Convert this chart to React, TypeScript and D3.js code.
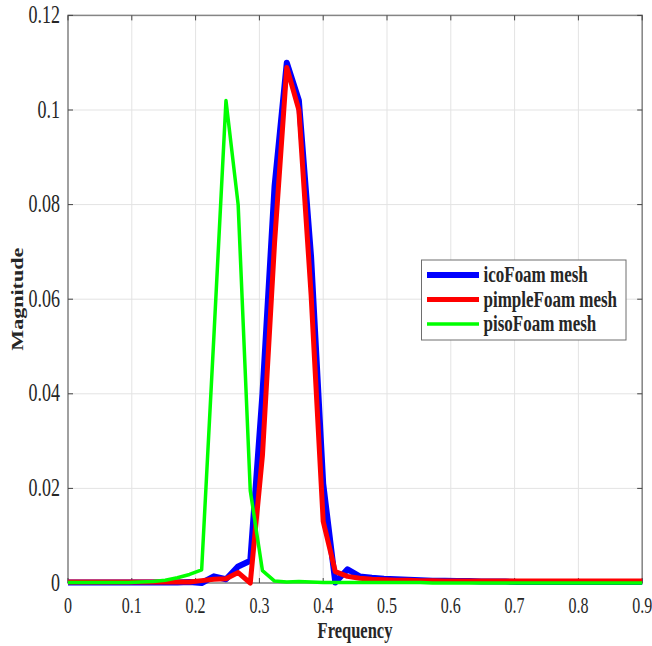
import React from "react";
import * as d3 from "d3";

const freq = [
  0, 0.019, 0.0381, 0.0571, 0.0762, 0.0952, 0.1143, 0.1333, 0.1524, 0.1714,
  0.1905, 0.2095, 0.2286, 0.2476, 0.2667, 0.2857, 0.3048, 0.3238, 0.3429, 0.3619,
  0.381, 0.4, 0.419, 0.4381, 0.4571, 0.4762, 0.4952, 0.5143, 0.5333, 0.5524,
  0.5714, 0.5905, 0.6095, 0.6286, 0.6476, 0.6667, 0.6857, 0.7048, 0.7238, 0.7429,
  0.7619, 0.781, 0.8, 0.819, 0.8381, 0.8571, 0.8762, 0.8952, 0.9143,
];

const icoFoam = [
  0.0001, 0.0001, 0.0001, 0.0001, 0.0001, 0.0001, 0.0001, 0.0001, 0.0001, 0.0001,
  0.0002, 0.0, 0.0014, 0.0008, 0.0035, 0.0047, 0.04, 0.084, 0.11, 0.102,
  0.069, 0.021, 0.0001, 0.0029, 0.0014, 0.0011, 0.0009, 0.0008, 0.0007, 0.0006,
  0.0005, 0.0005, 0.0004, 0.0004, 0.0003, 0.0003, 0.0003, 0.0002, 0.0002, 0.0002,
  0.0002, 0.0002, 0.0002, 0.0002, 0.0002, 0.0002, 0.0002, 0.0002, 0.0002,
];

const pimpleFoam = [
  0.0002, 0.0002, 0.0002, 0.0002, 0.0002, 0.0002, 0.0002, 0.0002, 0.0002, 0.0002,
  0.0002, 0.0005, 0.0008, 0.0009, 0.0022, 0.0, 0.027, 0.072, 0.109, 0.1,
  0.061, 0.013, 0.0024, 0.0014, 0.001, 0.0008, 0.0007, 0.0006, 0.0006, 0.0005,
  0.0005, 0.0004, 0.0004, 0.0004, 0.0004, 0.0004, 0.0004, 0.0004, 0.0004, 0.0004,
  0.0004, 0.0004, 0.0004, 0.0004, 0.0004, 0.0004, 0.0004, 0.0004, 0.0004,
];

const pisoFoam = [
  0.0001, 0.0001, 0.0001, 0.0001, 0.0001, 0.0001, 0.0002, 0.0003, 0.0006, 0.0011,
  0.0018, 0.0028, 0.052, 0.102, 0.08, 0.0195, 0.0026, 0.0004, 0.0002, 0.0003,
  0.0002, 0.0001, 0.0001, 0.0001, 0.0001, 0.0001, 0.0001, 0.0001, 0.0001, 0.0001,
  0.0, 0.0, 0.0, 0.0, 0.0, 0.0, 0.0, 0.0, 0.0, 0.0,
  0.0, 0.0, 0.0, 0.0, 0.0, 0.0, 0.0, 0.0, 0.0,
];

const seriesNames = ["icoFoam mesh", "pimpleFoam mesh", "pisoFoam mesh"];
const seriesColors = ["#0000ff", "#ff0000", "#00ff00"];
const seriesWidths = [6, 5, 3.5];
const xTicks = [0, 0.1, 0.2, 0.3, 0.4, 0.5, 0.6, 0.7, 0.8, 0.9];
const yTicks = [0, 0.02, 0.04, 0.06, 0.08, 0.1, 0.12];
const xTickLabels = ["0", "0.1", "0.2", "0.3", "0.4", "0.5", "0.6", "0.7", "0.8", "0.9"];
const yTickLabels = ["0", "0.02", "0.04", "0.06", "0.08", "0.1", "0.12"];

const W = 652;
const H = 646;
const L = 68;
const R = 642.2;
const T = 15.4;
const B = 583;
const SY = 1.38;
const FONT = "'Liberation Serif', 'Times New Roman', serif";

export default function App() {
  const x = d3.scaleLinear().domain([0, 0.9]).range([L, R]);
  const y = d3.scaleLinear().domain([0, 0.12]).range([B, T]);
  const series = [icoFoam, pimpleFoam, pisoFoam];
  const line = d3
    .line<[number, number]>()
    .x((d) => x(d[0]))
    .y((d) => y(d[1]));

  const txt = (
    tx: number,
    ty: number,
    s: string,
    anchor: string,
    size: number,
    bold = false,
    key?: string
  ) => (
    <text
      key={key}
      transform={`translate(${tx},${ty}) scale(1,${SY})`}
      textAnchor={anchor}
      fontFamily={FONT}
      fontSize={size}
      fontWeight={bold ? "bold" : "normal"}
      fill="#262626"
    >
      {s}
    </text>
  );

  return (
    <svg
      width={W}
      height={H}
      style={{ position: "absolute", left: 0, top: 0, background: "#fff" }}
    >
      <defs>
        <clipPath id="plotclip">
          <rect x={L} y={0} width={R - L} height={H} />
        </clipPath>
      </defs>
      {xTicks.map((t, i) => (
        <line key={"gx" + i} x1={x(t)} x2={x(t)} y1={T} y2={B} stroke="#e3e3e3" strokeWidth={1} />
      ))}
      {yTicks.map((t, i) => (
        <line key={"gy" + i} x1={L} x2={R} y1={y(t)} y2={y(t)} stroke="#e3e3e3" strokeWidth={1} />
      ))}
      <rect x={L} y={T} width={R - L} height={B - T} fill="none" stroke="#858585" strokeWidth={1.5} />
      {xTicks.map((t, i) => (
        <g key={"tx" + i}>
          <line x1={x(t)} x2={x(t)} y1={B} y2={B - 5} stroke="#444" strokeWidth={1} />
          <line x1={x(t)} x2={x(t)} y1={T} y2={T + 5} stroke="#444" strokeWidth={1} />
        </g>
      ))}
      {yTicks.map((t, i) => (
        <g key={"ty" + i}>
          <line x1={L} x2={L + 5} y1={y(t)} y2={y(t)} stroke="#444" strokeWidth={1} />
          <line x1={R} x2={R - 5} y1={y(t)} y2={y(t)} stroke="#444" strokeWidth={1} />
        </g>
      ))}
      <g clipPath="url(#plotclip)">
        {series.map((vals, si) => (
          <path
            key={"s" + si}
            d={line(freq.map((f, i) => [f, vals[i]] as [number, number])) || ""}
            fill="none"
            stroke={seriesColors[si]}
            strokeWidth={seriesWidths[si]}
            strokeLinejoin="round"
          />
        ))}
      </g>
      {xTicks.map((t, i) => txt(x(t), 612.5, xTickLabels[i], "middle", 16, false, "xl" + i))}
      {yTicks.map((t, i) => txt(L - 8, y(t) + 7.6, yTickLabels[i], "end", 18, false, "yl" + i))}
      {txt(355, 638, "Frequency", "middle", 16.5, true)}
      <text
        transform={`translate(23,${(T + B) / 2}) scale(1,${SY}) rotate(-90)`}
        textAnchor="middle"
        fontFamily={FONT}
        fontSize={16}
        fontWeight="bold"
        fill="#262626"
      >
        Magnitude
      </text>
      <rect x={421.5} y={260} width={204.5} height={80} fill="#fff" stroke="#6e6e6e" strokeWidth={1} />
      {seriesNames.map((n, i) => {
        const ry = 275 + i * 24.5;
        return (
          <g key={"lg" + i}>
            <line x1={427} x2={479} y1={ry} y2={ry} stroke={seriesColors[i]} strokeWidth={seriesWidths[i]} />
            {txt(483.5, ry + 7.3, n, "start", 17, true)}
          </g>
        );
      })}
    </svg>
  );
}
